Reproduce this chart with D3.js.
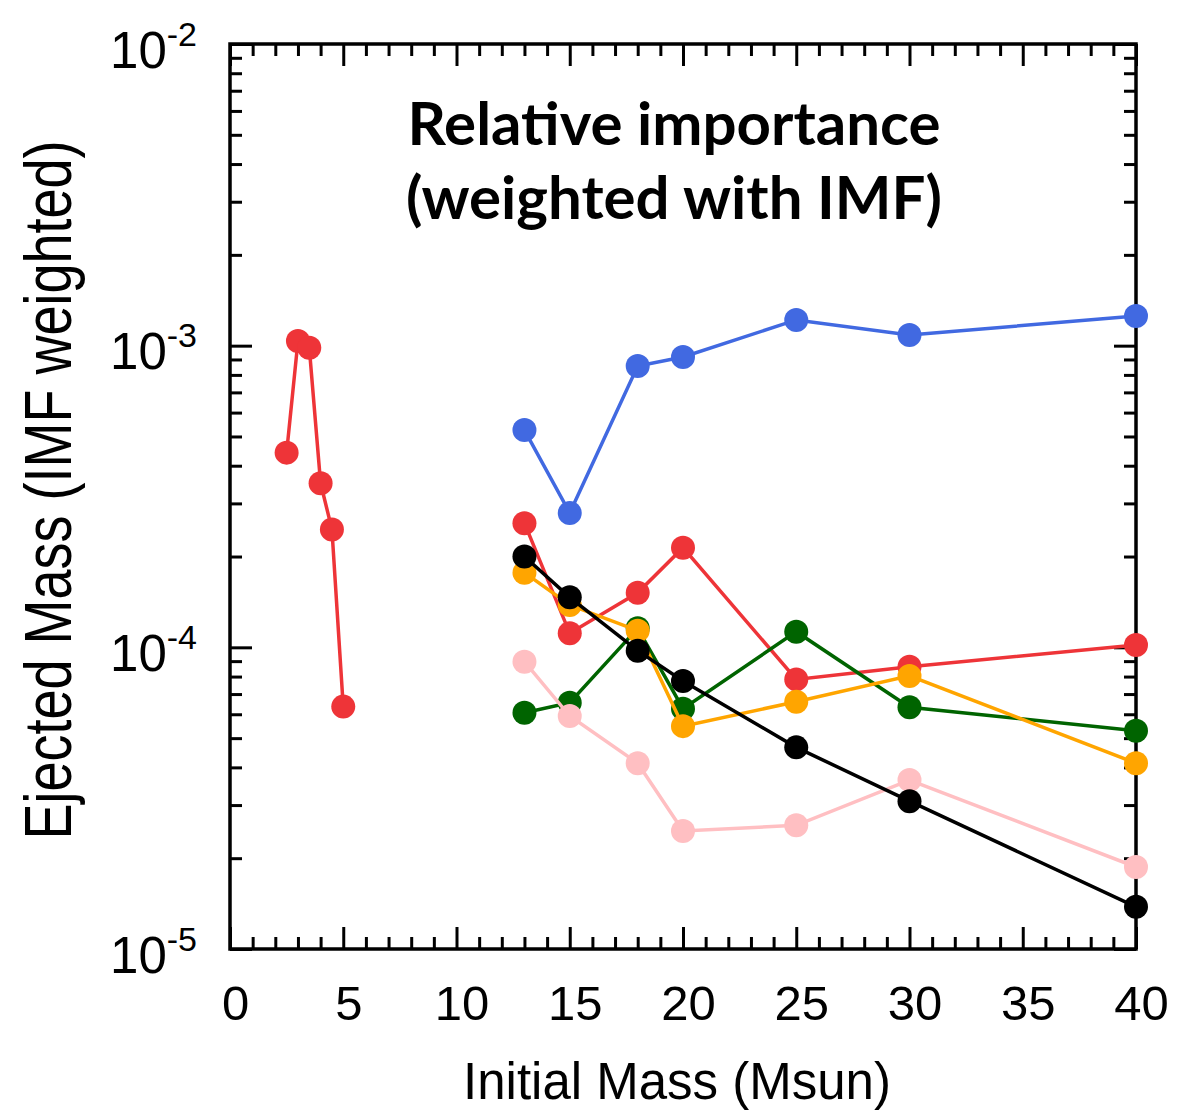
<!DOCTYPE html>
<html>
<head>
<meta charset="utf-8">
<script src="https://cdn.jsdelivr.net/npm/d3@7"></script>
<style>
  body { margin: 0; background: #fff; }
  svg { display: block; }
</style>
</head>
<body>
<svg id="chart"></svg>
<script>
const W = 1201, H = 1111;

// data
const lowMass = [2.5, 3, 3.5, 4, 4.5, 5];
const lowMassRed = [4.42e-4, 1.036e-3, 9.85e-4, 3.50e-4, 2.46e-4, 6.36e-5];

const highMass = [13, 15, 18, 20, 25, 30, 40];
const redVals = [2.58e-4, 1.113e-4, 1.517e-4, 2.14e-4, 7.83e-5, 8.62e-5, 1.018e-4];
const greenVals = [6.07e-5, 6.55e-5, 1.156e-4, 6.26e-5, 1.127e-4, 6.33e-5, 5.29e-5];
const pinkVals = [8.96e-5, 5.92e-5, 4.13e-5, 2.46e-5, 2.57e-5, 3.63e-5, 1.87e-5];
const orangeVals = [1.768e-4, 1.381e-4, 1.136e-4, 5.48e-5, 6.60e-5, 8.04e-5, 4.13e-5];
const blackVals = [2.00e-4, 1.465e-4, 9.75e-5, 7.73e-5, 4.66e-5, 3.09e-5, 1.38e-5];
const blueVals = [5.25e-4, 2.79e-4, 8.56e-4, 9.17e-4, 1.217e-3, 1.085e-3, 1.254e-3];

const xMajor = [0, 5, 10, 15, 20, 25, 30, 35, 40];
const xMinor = d3.range(0, 41, 1).filter(d => d % 5 != 0);
const yDecades = [1e-5, 1e-4, 1e-3, 1e-2];
const yExponents = ["-5", "-4", "-3", "-2"];
const yMinor = [1e-5, 1e-4, 1e-3].flatMap(d => d3.range(2, 10).map(k => k * d));

const titleLines = ["Relative importance", "(weighted with IMF)"];

const red = "#ee3438", green = "#006400", pink = "#ffbfc2",
  orange = "#ffa500", black = "#000000", blue = "#4169e1";

// drawing order: bottom first
const series = [
  { xs: lowMass, ys: lowMassRed, color: red },
  { xs: highMass, ys: blueVals, color: blue },
  { xs: highMass, ys: redVals, color: red },
  { xs: highMass, ys: greenVals, color: green },
  { xs: highMass, ys: pinkVals, color: pink },
  { xs: highMass, ys: orangeVals, color: orange },
  { xs: highMass, ys: blackVals, color: black },
];

const margin = { top: 44, right: 65, bottom: 162, left: 230 };
const plotL = margin.left, plotR = W - margin.right,
  plotT = margin.top, plotB = H - margin.bottom;

const svg = d3.select("#chart").attr("width", W).attr("height", H);

const x = d3.scaleLinear().domain([0, 40]).range([plotL, plotR]);
const y = d3.scaleLog().domain([1e-5, 1e-2]).range([plotB, plotT]);

const majorLen = 22, minorLen = 12;
const fontSans = "'Liberation Sans', Arial, Helvetica, sans-serif";

function cleanAxis(g) {
  g.select(".domain").remove();
  g.selectAll(".tick line").attr("stroke", "#000").attr("stroke-width", 3);
}

// x axis bottom
svg.append("g")
  .attr("transform", `translate(0,${plotB})`)
  .call(d3.axisBottom(x).tickValues(xMinor).tickSize(-minorLen).tickFormat(""))
  .call(cleanAxis);
const xAxisB = svg.append("g")
  .attr("transform", `translate(0,${plotB})`)
  .call(d3.axisBottom(x).tickValues(xMajor).tickSize(-majorLen).tickPadding(0).tickFormat(d => d))
  .call(cleanAxis);
xAxisB.selectAll(".tick text")
  .attr("y", 71)
  .attr("dy", 0)
  .attr("x", 5)
  .attr("font-family", fontSans)
  .attr("font-size", 49)
  .attr("fill", "#000");

// x axis top
svg.append("g")
  .attr("transform", `translate(0,${plotT})`)
  .call(d3.axisTop(x).tickValues(xMinor).tickSize(-minorLen).tickFormat(""))
  .call(cleanAxis);
svg.append("g")
  .attr("transform", `translate(0,${plotT})`)
  .call(d3.axisTop(x).tickValues(xMajor).tickSize(-majorLen).tickFormat(""))
  .call(cleanAxis);

// y axis left
svg.append("g")
  .attr("transform", `translate(${plotL},0)`)
  .call(d3.axisLeft(y).tickValues(yMinor).tickSize(-minorLen).tickFormat(""))
  .call(cleanAxis);
const yAxisL = svg.append("g")
  .attr("transform", `translate(${plotL},0)`)
  .call(d3.axisLeft(y).tickValues(yDecades).tickSize(-majorLen).tickFormat(""))
  .call(cleanAxis);

yAxisL.selectAll(".tick").each(function (d, i) {
  const t = d3.select(this).select("text")
    .attr("x", -33)
    .attr("y", 23)
    .attr("dy", 0)
    .attr("text-anchor", "end")
    .attr("font-family", fontSans)
    .attr("fill", "#000");
  t.append("tspan").attr("font-size", 51).text("10");
  t.append("tspan").attr("font-size", 34).attr("dy", -22).text(yExponents[i]);
});

// y axis right
svg.append("g")
  .attr("transform", `translate(${plotR},0)`)
  .call(d3.axisRight(y).tickValues(yMinor).tickSize(-minorLen).tickFormat(""))
  .call(cleanAxis);
svg.append("g")
  .attr("transform", `translate(${plotR},0)`)
  .call(d3.axisRight(y).tickValues(yDecades).tickSize(-majorLen).tickFormat(""))
  .call(cleanAxis);

// frame
svg.append("rect")
  .attr("x", plotL).attr("y", plotT)
  .attr("width", plotR - plotL).attr("height", plotB - plotT)
  .attr("fill", "none")
  .attr("stroke", "#000")
  .attr("stroke-width", 3.5);

// series
const line = d3.line().x(d => x(d[0])).y(d => y(d[1]));
series.forEach(s => {
  const pts = s.xs.map((v, i) => [v, s.ys[i]]);
  const g = svg.append("g");
  g.append("path")
    .datum(pts)
    .attr("d", line)
    .attr("fill", "none")
    .attr("stroke", s.color)
    .attr("stroke-width", 3.5);
  g.selectAll("circle")
    .data(pts)
    .join("circle")
    .attr("cx", d => x(d[0]))
    .attr("cy", d => y(d[1]))
    .attr("r", 12)
    .attr("fill", s.color);
});

// title
svg.append("g").selectAll("text")
  .data(titleLines)
  .join("text")
  .attr("x", 674)
  .attr("y", (d, i) => 145 + i * 74)
  .attr("text-anchor", "middle")
  .attr("font-family", "Lato, 'Open Sans', sans-serif")
  .attr("font-weight", "bold")
  .attr("font-size", 60)
  .attr("fill", "#000")
  .text(d => d);

// axis titles
svg.append("text")
  .attr("x", (plotL + plotR) / 2 - 6)
  .attr("y", 1099)
  .attr("text-anchor", "middle")
  .attr("font-family", fontSans)
  .attr("font-size", 51)
  .attr("fill", "#000")
  .text("Initial Mass (Msun)");

svg.append("text")
  .attr("transform", `translate(71,490) rotate(-90) scale(1,1.25)`)
  .attr("text-anchor", "middle")
  .attr("font-family", fontSans)
  .attr("font-size", 54)
  .attr("fill", "#000")
  .text("Ejected Mass (IMF weighted)");
</script>
</body>
</html>
